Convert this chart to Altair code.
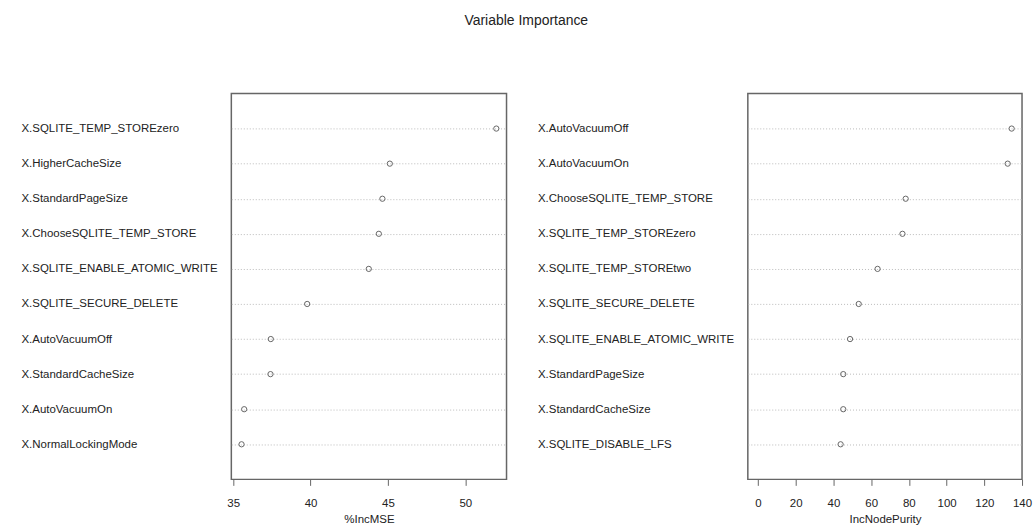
import altair as alt
import pandas as pd

left_vars = ["X.SQLITE_TEMP_STOREzero", "X.HigherCacheSize", "X.StandardPageSize",
             "X.ChooseSQLITE_TEMP_STORE", "X.SQLITE_ENABLE_ATOMIC_WRITE", "X.SQLITE_SECURE_DELETE",
             "X.AutoVacuumOff", "X.StandardCacheSize", "X.AutoVacuumOn", "X.NormalLockingMode"]
left_vals = [52.00, 45.12, 44.64, 44.41, 43.76, 39.78, 37.43, 37.41, 35.71, 35.54]
left_ticks = [35, 40, 45, 50]

right_vars = ["X.AutoVacuumOff", "X.AutoVacuumOn", "X.ChooseSQLITE_TEMP_STORE",
              "X.SQLITE_TEMP_STOREzero", "X.SQLITE_TEMP_STOREtwo", "X.SQLITE_SECURE_DELETE",
              "X.SQLITE_ENABLE_ATOMIC_WRITE", "X.StandardPageSize", "X.StandardCacheSize",
              "X.SQLITE_DISABLE_LFS"]
right_vals = [134.5, 132.4, 78.3, 76.6, 63.4, 53.4, 48.8, 45.2, 45.2, 43.8]
right_ticks = [0, 20, 40, 60, 80, 100, 120, 140]

TXT = "#222222"
FS = 11.5


def panel(vars_, vals, domain, ticks, title, w):
    df = pd.DataFrame({"var": vars_, "val": vals})
    return alt.Chart(df).mark_point(
        shape="circle", filled=False, size=28, color="#666666", strokeWidth=1, opacity=1
    ).encode(
        x=alt.X("val:Q",
                scale=alt.Scale(domain=domain, nice=False, zero=False),
                axis=alt.Axis(values=ticks, title=title, grid=False, domain=False,
                              tickSize=6, tickColor="#666666", labelPadding=12,
                              titlePadding=5, labelFontSize=FS, titleFontSize=FS,
                              titleFontWeight="normal", format="d", labelFlush=False,
                              labelColor=TXT, titleColor=TXT)),
        y=alt.Y("var:N", sort=vars_,
                scale=alt.Scale(type="point", padding=1),
                axis=alt.Axis(title=None, labelAlign="left", labelPadding=211, ticks=False,
                              domain=False, grid=True, gridDash=[1, 2], gridColor="#bbbbbb",
                              labelLimit=0, labelFontSize=FS, labelColor=TXT)),
    ).properties(width=w, height=387)


left = panel(left_vars, left_vals, [34.88, 52.66], left_ticks, "%IncMSE", 276)
right = panel(right_vars, right_vals, [-5.4, 140.0], right_ticks, "IncNodePurity", 275)

chart = alt.hconcat(left, right, spacing=29).properties(
    title=alt.TitleParams(text="Variable Importance", fontSize=14, fontWeight="normal",
                          anchor="middle", offset=65, color=TXT),
    padding={"left": 20, "top": 13, "right": 0, "bottom": 0},
).configure(font="Liberation Sans").configure_view(stroke="#666666", strokeWidth=1.5)

chart.save("out.html", embed_options={"renderer": "svg", "actions": False})
